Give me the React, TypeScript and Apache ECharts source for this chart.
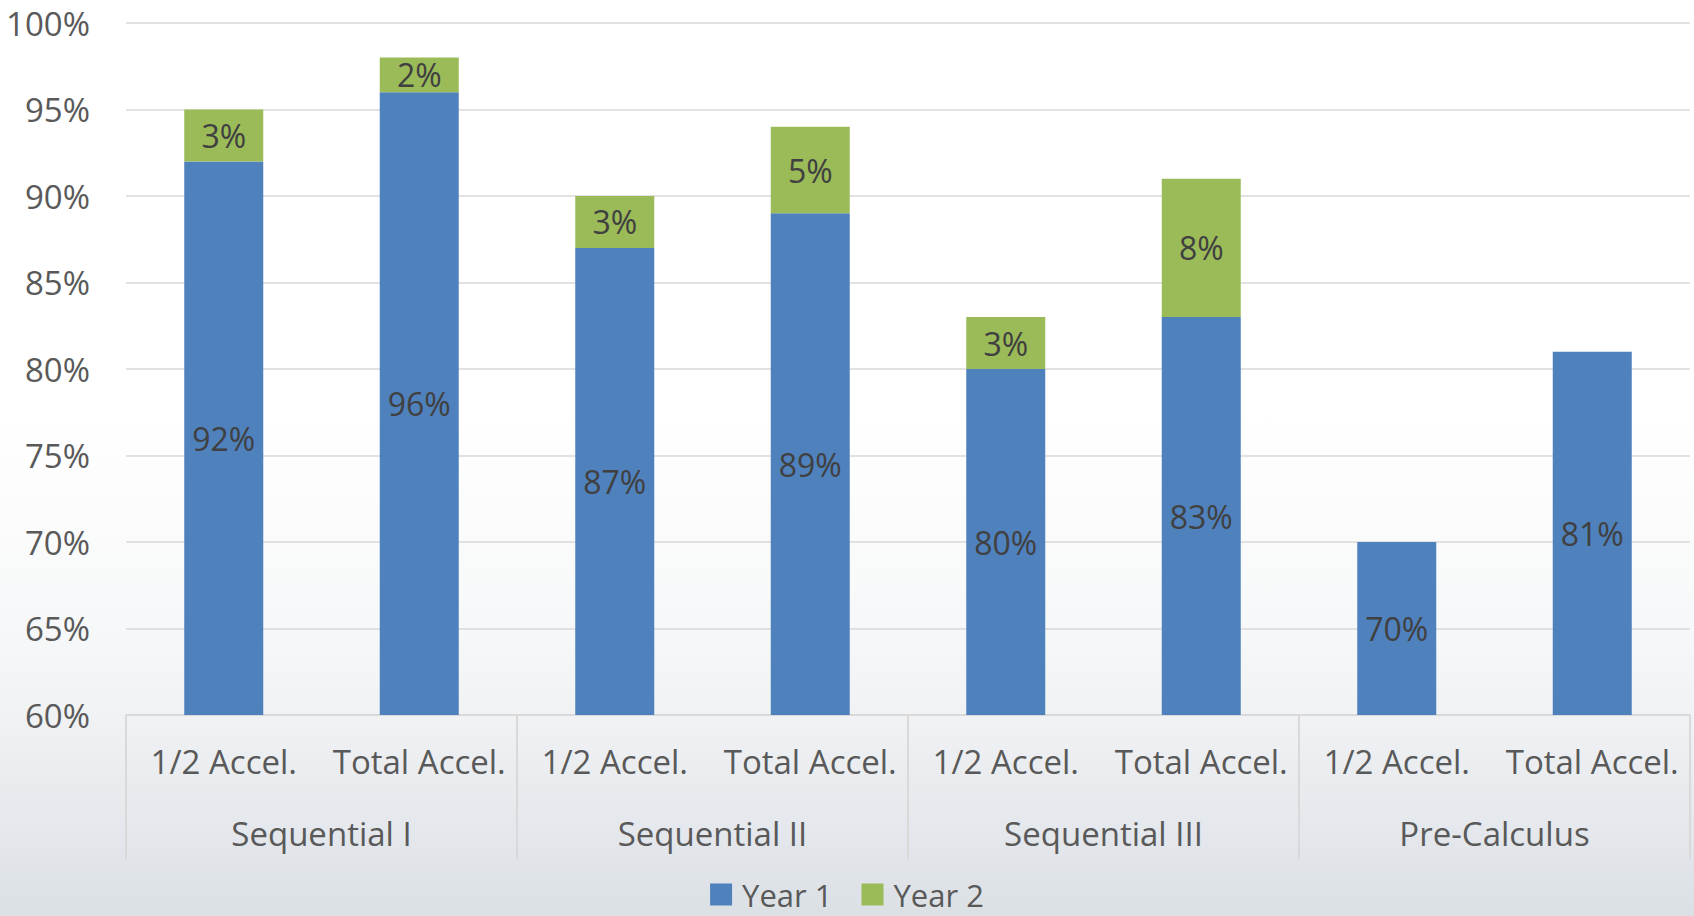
import React, { useEffect, useRef } from "react";
import * as echarts from "echarts";

// Course groups and the two acceleration tracks inside each group
const groups = ["Sequential I", "Sequential II", "Sequential III", "Pre-Calculus"];
const tracks = [
  "1/2 Accel.", "Total Accel.",
  "1/2 Accel.", "Total Accel.",
  "1/2 Accel.", "Total Accel.",
  "1/2 Accel.", "Total Accel.",
];

// Percentages reached in year 1, and the extra reached in year 2
const year1 = [92, 96, 87, 89, 80, 83, 70, 81];
const year2: (number | null)[] = [3, 2, 3, 5, 3, 8, null, null];

const FONT = "'Open Sans', 'Segoe UI', sans-serif";
const AXIS_GRAY = "#d9d9d9";
const LABEL_GRAY = "#595959";
const VALUE_DARK = "#404040";

export default function App() {
  const ref = useRef<HTMLDivElement>(null);

  useEffect(() => {
    if (!ref.current) return;
    const chart = echarts.init(ref.current, null, { renderer: "svg" });

    const valueLabel = {
      show: true,
      position: "inside" as const,
      color: VALUE_DARK,
      fontSize: 32,
      fontFamily: FONT,
      formatter: (p: any) => (p.value == null ? "" : `${p.value}%`),
    };

    chart.setOption({
      animation: false,
      backgroundColor: "transparent",
      textStyle: { fontFamily: FONT },
      grid: { left: 126, right: 4, top: 23, bottom: 201, containLabel: false },
      legend: {
        bottom: 6,
        left: "center",
        padding: 0,
        itemWidth: 22,
        itemHeight: 22,
        itemGap: 29,
        icon: "rect",
        textStyle: {
          fontSize: 31,
          color: LABEL_GRAY,
          fontFamily: FONT,
          padding: [0, 0, 0, 5],
        },
        data: ["Year 1", "Year 2"],
      },
      xAxis: [
        {
          type: "category",
          data: tracks,
          position: "bottom",
          axisLine: { show: true, lineStyle: { color: AXIS_GRAY, width: 2 } },
          axisTick: { show: false },
          axisLabel: {
            color: LABEL_GRAY,
            fontSize: 33,
            fontFamily: FONT,
            margin: 30,
            interval: 0,
          },
        },
        {
          type: "category",
          data: groups,
          position: "bottom",
          boundaryGap: true,
          axisLine: { show: false },
          axisTick: {
            show: true,
            inside: false,
            length: 144,
            lineStyle: { color: AXIS_GRAY, width: 2 },
          },
          axisLabel: {
            color: LABEL_GRAY,
            fontSize: 33,
            fontFamily: FONT,
            margin: 102,
            interval: 0,
          },
        },
      ],
      yAxis: {
        type: "value",
        min: 60,
        max: 100,
        interval: 5,
        axisLine: { show: false },
        axisTick: { show: false },
        splitLine: { lineStyle: { color: AXIS_GRAY, width: 1.5 } },
        axisLabel: {
          formatter: "{value}%",
          color: LABEL_GRAY,
          fontSize: 33,
          fontFamily: FONT,
          margin: 36,
        },
      },
      series: [
        {
          name: "Year 1",
          type: "bar",
          stack: "total",
          xAxisIndex: 0,
          data: year1,
          barWidth: 79,
          itemStyle: { color: "#4f81bd" },
          label: valueLabel,
        },
        {
          name: "Year 2",
          type: "bar",
          stack: "total",
          xAxisIndex: 0,
          data: year2,
          barWidth: 79,
          itemStyle: { color: "#9bbb59" },
          label: valueLabel,
        },
      ],
    });

    return () => chart.dispose();
  }, []);

  return (
    <div
      style={{
        position: "absolute",
        left: 0,
        top: 0,
        width: 1694,
        height: 916,
        background:
          "linear-gradient(to bottom, #ffffff 0%, #ffffff 45%, #f7f8f9 68%, #f0f2f4 78%, #e5e8ec 90%, #dbe0e5 100%)",
      }}
    >
      <div ref={ref} style={{ width: 1694, height: 916 }} />
    </div>
  );
}
